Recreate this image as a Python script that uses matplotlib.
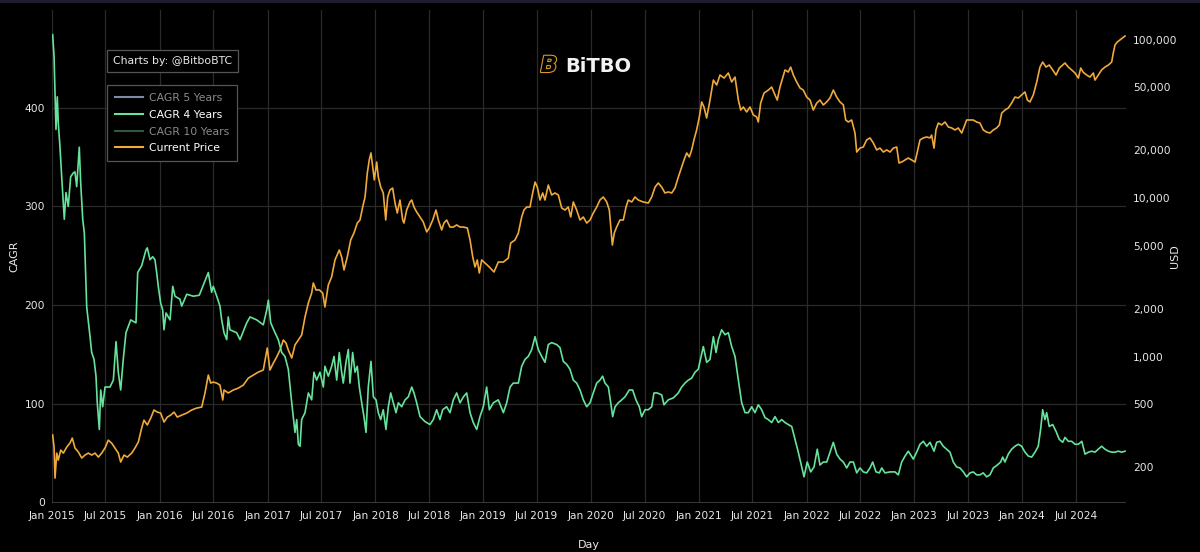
import datetime as dt
import matplotlib
matplotlib.use("Agg")
import matplotlib.pyplot as plt
import matplotlib.dates as mdates
import matplotlib.patheffects as pe
from matplotlib.lines import Line2D
from matplotlib.ticker import FixedLocator, FuncFormatter
from matplotlib.patches import Rectangle

# ---------------- data (decimal years) ----------------
cagr_t = [2015.006, 2015.019, 2015.037, 2015.049, 2015.058, 2015.074, 2015.090, 2015.105, 2015.114, 2015.130,
          2015.151, 2015.173, 2015.198, 2015.213, 2015.229, 2015.238, 2015.253, 2015.266, 2015.285, 2015.300,
          2015.322, 2015.353, 2015.368, 2015.390, 2015.408, 2015.420, 2015.439, 2015.452, 2015.470, 2015.492,
          2015.538, 2015.569, 2015.594, 2015.615, 2015.637, 2015.661, 2015.686, 2015.730, 2015.779, 2015.795,
          2015.832, 2015.872, 2015.884, 2015.909, 2015.934, 2015.955, 2015.971, 2015.986, 2016.008, 2016.027,
          2016.039, 2016.058, 2016.095, 2016.120, 2016.141, 2016.187, 2016.203, 2016.250, 2016.311, 2016.366,
          2016.413, 2016.450, 2016.481, 2016.496, 2016.528, 2016.558, 2016.574, 2016.596, 2016.621, 2016.635,
          2016.651, 2016.713, 2016.744, 2016.806, 2016.837, 2016.899, 2016.960, 2016.992,
          2017.007, 2017.029, 2017.069, 2017.099, 2017.131, 2017.161, 2017.192, 2017.224, 2017.254, 2017.270,
          2017.285, 2017.301, 2017.316, 2017.347, 2017.378, 2017.409, 2017.430, 2017.455, 2017.486, 2017.517,
          2017.532, 2017.563, 2017.594, 2017.616, 2017.641, 2017.665, 2017.687, 2017.702, 2017.727, 2017.749,
          2017.764, 2017.789, 2017.811, 2017.832, 2017.851, 2017.873, 2017.894, 2017.913, 2017.934, 2017.959,
          2017.981, 2018.006, 2018.027, 2018.049, 2018.073, 2018.098, 2018.120, 2018.142, 2018.166, 2018.191,
          2018.213, 2018.244, 2018.275, 2018.305, 2018.337, 2018.358, 2018.383, 2018.414, 2018.460, 2018.506,
          2018.537, 2018.568, 2018.599, 2018.624, 2018.661, 2018.692, 2018.723, 2018.754, 2018.785, 2018.816,
          2018.847, 2018.878, 2018.908, 2018.940, 2018.970,
          2019.001, 2019.032, 2019.057, 2019.094, 2019.140, 2019.187, 2019.218, 2019.249, 2019.279, 2019.326,
          2019.357, 2019.388, 2019.418, 2019.450, 2019.481, 2019.511, 2019.543, 2019.573, 2019.604, 2019.635,
          2019.682, 2019.712, 2019.743, 2019.774, 2019.805, 2019.836, 2019.867, 2019.898, 2019.929, 2019.960,
          2019.991, 2020.021, 2020.053, 2020.083, 2020.108, 2020.130, 2020.161, 2020.183, 2020.201, 2020.223,
          2020.253, 2020.285, 2020.315, 2020.355, 2020.386, 2020.417, 2020.448, 2020.470, 2020.501, 2020.532,
          2020.563, 2020.584, 2020.615, 2020.656, 2020.677, 2020.717, 2020.764, 2020.810, 2020.841, 2020.872,
          2020.903, 2020.934, 2020.965, 2020.995,
          2021.042, 2021.073, 2021.104, 2021.135, 2021.160, 2021.181, 2021.212, 2021.243, 2021.274, 2021.305,
          2021.336, 2021.367, 2021.398, 2021.429, 2021.459, 2021.491, 2021.521, 2021.552, 2021.583, 2021.614,
          2021.645, 2021.676, 2021.707, 2021.738, 2021.769, 2021.800, 2021.830, 2021.862, 2021.892, 2021.923,
          2021.955, 2021.976, 2022.006, 2022.038, 2022.069, 2022.099, 2022.124, 2022.155, 2022.187, 2022.217,
          2022.248, 2022.279, 2022.310, 2022.341, 2022.372, 2022.403, 2022.434, 2022.465, 2022.495, 2022.526,
          2022.557, 2022.588, 2022.613, 2022.644, 2022.675, 2022.697, 2022.727, 2022.774, 2022.820, 2022.851,
          2022.882, 2022.913, 2022.943,
          2022.990, 2023.021, 2023.052, 2023.083, 2023.114, 2023.145, 2023.182, 2023.207, 2023.237, 2023.268,
          2023.299, 2023.330, 2023.361, 2023.392, 2023.423, 2023.454, 2023.485, 2023.516, 2023.546, 2023.577,
          2023.608, 2023.639, 2023.670, 2023.701, 2023.732, 2023.769, 2023.800, 2023.819, 2023.840, 2023.871,
          2023.902, 2023.933, 2023.964, 2023.995, 2024.026, 2024.057, 2024.088, 2024.119, 2024.149, 2024.171,
          2024.190, 2024.211, 2024.227, 2024.251, 2024.283, 2024.314, 2024.344, 2024.376, 2024.397, 2024.428,
          2024.459, 2024.490, 2024.521, 2024.553, 2024.583, 2024.614, 2024.646, 2024.675, 2024.706, 2024.737,
          2024.768, 2024.800, 2024.830, 2024.861, 2024.892, 2024.923, 2024.954]
cagr_v = [474, 452, 378, 411, 385, 360, 330, 304, 287, 314,
          300, 330, 334, 335, 320, 335, 360, 324, 287, 273,
          198, 168, 152, 145, 128, 101, 74, 114, 97, 117,
          117, 124, 163, 132, 114, 145, 172, 185, 182, 233,
          240, 256, 258, 246, 249, 246, 233, 219, 202, 195,
          175, 192, 185, 219, 209, 206, 199, 211, 209, 210,
          223, 233, 213, 219, 209, 199, 185, 172, 165, 188,
          175, 172, 165, 182, 188, 185, 180, 195,
          205, 182, 172, 165, 152, 148, 135, 101, 71, 84,
          59, 57, 84, 91, 111, 104, 132, 124, 132, 117,
          138, 128, 138, 148, 124, 152, 132, 121, 142, 155,
          121, 152, 132, 138, 117, 101, 87, 71, 117, 143,
          107, 104, 91, 84, 94, 74, 97, 111, 101, 91,
          101, 97, 104, 107, 117, 111, 101, 87, 82, 79,
          84, 94, 84, 94, 97, 91, 104, 111, 101, 107,
          111, 91, 81, 74, 87,
          97, 117, 94, 101, 104, 91, 101, 117, 121, 121,
          138, 145, 148, 155, 168, 155, 148, 142, 160, 162,
          160, 157, 143, 140, 135, 124, 121, 114, 104, 97,
          101, 111, 121, 124, 128, 121, 117, 101, 87, 97,
          101, 104, 107, 114, 114, 104, 97, 87, 94, 94,
          97, 111, 111, 109, 99, 104, 106, 111, 117, 121,
          124, 126, 132, 135,
          158, 142, 145, 168, 152, 165, 175, 170, 172, 158,
          148, 124, 101, 91, 91, 97, 91, 99, 94, 86,
          84, 81, 87, 81, 84, 81, 79, 77, 64, 51,
          36, 26, 41, 31, 36, 54, 38, 41, 41, 51,
          61, 49, 44, 41, 35, 41, 41, 30, 35, 31,
          30, 35, 41, 31, 30, 35, 30, 31, 31, 28,
          41, 47, 52,
          44, 51, 59, 62, 57, 61, 52, 61, 62, 57,
          54, 51, 41, 36, 35, 31, 26, 30, 31, 28,
          28, 30, 26, 28, 35, 38, 41, 46, 41, 49,
          54, 57, 59, 57, 51, 47, 46, 51, 57, 74,
          94, 84, 91, 77, 79, 72, 64, 61, 66, 62,
          62, 59, 59, 62, 49, 51, 52, 51, 54, 57,
          54, 52, 51, 51, 52, 51, 52]

price_t = [2015.006, 2015.019, 2015.028, 2015.044, 2015.058, 2015.081, 2015.105, 2015.136, 2015.167, 2015.188,
           2015.213, 2015.244, 2015.276, 2015.306, 2015.337, 2015.368, 2015.399, 2015.430, 2015.461, 2015.492,
           2015.522, 2015.554, 2015.584, 2015.615, 2015.637, 2015.668, 2015.699, 2015.739, 2015.770, 2015.801,
           2015.832, 2015.853, 2015.884, 2015.916, 2015.946, 2015.977, 2016.008, 2016.039, 2016.070, 2016.101,
           2016.132, 2016.162, 2016.203, 2016.250, 2016.296, 2016.342, 2016.389, 2016.419, 2016.450, 2016.472,
           2016.496, 2016.528, 2016.558, 2016.584, 2016.596, 2016.635, 2016.682, 2016.728, 2016.775, 2016.821,
           2016.867, 2016.914, 2016.960, 2016.997,
           2017.022, 2017.053, 2017.084, 2017.115, 2017.146, 2017.171, 2017.192, 2017.224, 2017.254, 2017.285,
           2017.316, 2017.347, 2017.378, 2017.409, 2017.424, 2017.449, 2017.480, 2017.511, 2017.532, 2017.563,
           2017.594, 2017.625, 2017.665, 2017.687, 2017.709, 2017.739, 2017.771, 2017.801, 2017.832, 2017.857,
           2017.882, 2017.904, 2017.925, 2017.943, 2017.959, 2017.975, 2017.990, 2018.012, 2018.027, 2018.049,
           2018.073, 2018.096, 2018.114, 2018.135, 2018.160, 2018.182, 2018.203, 2018.228, 2018.253, 2018.265,
           2018.290, 2018.321, 2018.337, 2018.358, 2018.383, 2018.414, 2018.444, 2018.476, 2018.500, 2018.532,
           2018.562, 2018.584, 2018.615, 2018.636, 2018.661, 2018.692, 2018.723, 2018.754, 2018.785, 2018.816,
           2018.853, 2018.878, 2018.903, 2018.924, 2018.945, 2018.964, 2018.986,
           2019.017, 2019.057, 2019.100, 2019.140, 2019.187, 2019.233, 2019.255, 2019.295, 2019.326, 2019.357,
           2019.378, 2019.404, 2019.434, 2019.459, 2019.481, 2019.502, 2019.527, 2019.552, 2019.573, 2019.604,
           2019.635, 2019.666, 2019.697, 2019.728, 2019.759, 2019.789, 2019.812, 2019.836, 2019.867, 2019.898,
           2019.929, 2019.960, 2019.991, 2020.021, 2020.053, 2020.083, 2020.114, 2020.146, 2020.170, 2020.186,
           2020.198, 2020.216, 2020.238, 2020.269, 2020.300, 2020.325, 2020.346, 2020.378, 2020.408, 2020.439,
           2020.485, 2020.532, 2020.563, 2020.594, 2020.624, 2020.656, 2020.686, 2020.717, 2020.749, 2020.779,
           2020.810, 2020.841, 2020.863, 2020.888, 2020.912, 2020.934, 2020.955, 2020.980, 2021.005, 2021.027,
           2021.048, 2021.073, 2021.104, 2021.135, 2021.166, 2021.197, 2021.234, 2021.274, 2021.305, 2021.336,
           2021.367, 2021.389, 2021.413, 2021.444, 2021.475, 2021.506, 2021.537, 2021.552, 2021.574, 2021.605,
           2021.645, 2021.676, 2021.707, 2021.728, 2021.753, 2021.778, 2021.800, 2021.830, 2021.852, 2021.877,
           2021.908, 2021.939, 2021.969, 2022.001, 2022.032, 2022.062, 2022.094, 2022.124, 2022.155, 2022.186,
           2022.217, 2022.248, 2022.279, 2022.310, 2022.341, 2022.363, 2022.387, 2022.418, 2022.449, 2022.465,
           2022.495, 2022.526, 2022.557, 2022.588, 2022.619, 2022.650, 2022.681, 2022.712, 2022.743, 2022.774,
           2022.805, 2022.836, 2022.857, 2022.882, 2022.913, 2022.943, 2022.975, 2023.006, 2023.052, 2023.083,
           2023.114, 2023.145, 2023.160, 2023.182, 2023.200, 2023.222, 2023.253, 2023.284, 2023.315, 2023.346,
           2023.377, 2023.407, 2023.439, 2023.460, 2023.485, 2023.516, 2023.546, 2023.577, 2023.608, 2023.639,
           2023.670, 2023.701, 2023.732, 2023.763, 2023.788, 2023.810, 2023.840, 2023.871, 2023.902, 2023.933,
           2023.964, 2023.995, 2024.026, 2024.048, 2024.072, 2024.103, 2024.135, 2024.165, 2024.190, 2024.221,
           2024.251, 2024.283, 2024.314, 2024.344, 2024.376, 2024.397, 2024.428, 2024.459, 2024.490, 2024.521,
           2024.543, 2024.567, 2024.598, 2024.629, 2024.660, 2024.675, 2024.706, 2024.737, 2024.768, 2024.800,
           2024.830, 2024.845, 2024.861, 2024.882, 2024.907, 2024.932, 2024.954]
price_v = [320, 269, 171, 246, 222, 257, 246, 268, 285, 306,
           265, 250, 229, 239, 246, 239, 246, 232, 246, 265,
           297, 284, 265, 246, 216, 239, 232, 246, 265, 289,
           354, 397, 370, 409, 460, 446, 440, 386, 415, 427,
           446, 415, 427, 440, 460, 473, 480, 589, 764, 680,
           690, 680, 661, 532, 615, 589, 615, 632, 661, 731,
           764, 798, 822, 1132,
           822, 909, 993, 1099, 1271, 1216, 1099, 979, 1183, 1271,
           1367, 1775, 2178, 2518, 2911, 2630, 2630, 2518, 2053, 2826,
           3176, 4068, 4699, 4246, 3516, 4246, 5433, 6012, 6951, 7265,
           8775, 10150, 14380, 17380, 19240, 15710, 13000, 16860, 13550, 11720,
           10760, 7265, 10150, 11230, 11560, 9300, 8040, 9710, 7265, 6951,
           8400, 9440, 9710, 8775, 8160, 7590, 7060, 6110, 6470, 7265,
           8400, 7265, 6290, 6951, 7265, 6560, 6560, 6760, 6560, 6560,
           6470, 5433, 4246, 3670, 4068, 3366, 4068,
           3890, 3670, 3414, 3945, 3945, 4180, 5200, 5433, 6012, 7590,
           8400, 8775, 8775, 10760, 12610, 11720, 9710, 10760, 9710, 12080,
           10450, 10760, 10450, 8650, 8400, 8775, 7590, 9440, 8400, 7265,
           7590, 6951, 7265, 8040, 8775, 9710, 10150, 9440, 8400, 6290,
           5050, 6012, 6560, 7265, 7265, 8775, 9710, 9440, 10150, 9710,
           9440, 9300, 10150, 11720, 12440, 11720, 10760, 10920, 10760, 11560,
           13550, 15710, 17380, 19240, 18150, 20110, 23250, 26870, 32440, 40360,
           37500, 31980, 41500, 55460, 51640, 59700, 57100, 61480, 53950, 57940,
           41500, 35890, 37500, 34900, 37500, 33420, 32440, 30170, 39720, 45920,
           47980, 50140, 44670, 41500, 50140, 57100, 64270, 62370, 66990, 59700,
           53950, 49440, 47980, 43340, 41500, 35890, 39720, 41500, 38650, 40360,
           42770, 47980, 43340, 40360, 38650, 31060, 30170, 31060, 25700, 19500,
           20650, 20980, 23250, 23940, 22240, 20110, 20650, 19500, 20110, 19500,
           20650, 20980, 16630, 16860, 17380, 17870, 17380, 16860, 23250, 23940,
           24270, 23940, 24950, 20650, 26870, 29720, 28900, 30170, 28060, 27670,
           26870, 27670, 25700, 28060, 31060, 31060, 31060, 30170, 29720, 26870,
           26060, 25700, 26870, 27670, 28900, 34350, 35890, 36990, 39720, 43340,
           42770, 44670, 46700, 41500, 40360, 44670, 53950, 66990, 72080, 66990,
           69020, 64270, 59700, 66040, 69020, 71100, 66990, 64270, 61480, 57100,
           66040, 62000, 59700, 57940, 61480, 55460, 59700, 64270, 66990, 69020,
           72080, 82200, 92300, 96400, 99300, 102200, 105200]

cagr_ticks = [0, 100, 200, 300, 400]
usd_ticks = [200, 500, 1000, 2000, 5000, 10000, 20000, 50000, 100000]
x_tick_labels = ["Jan 2015", "Jul 2015", "Jan 2016", "Jul 2016", "Jan 2017", "Jul 2017",
                 "Jan 2018", "Jul 2018", "Jan 2019", "Jul 2019", "Jan 2020", "Jul 2020",
                 "Jan 2021", "Jul 2021", "Jan 2022", "Jul 2022", "Jan 2023", "Jul 2023",
                 "Jan 2024", "Jul 2024"]
legend_labels = ["CAGR 5 Years", "CAGR 4 Years", "CAGR 10 Years", "Current Price"]


def to_date(t):
    return dt.datetime(2015, 1, 1) + dt.timedelta(days=(t - 2015.0) * 365.25)


cagr_d = [to_date(t) for t in cagr_t]
price_d = [to_date(t) for t in price_t]
tick_d = [dt.datetime.strptime(s, "%b %Y") for s in x_tick_labels]

# ---------------- style ----------------
BG = "#000000"
GREEN = "#66e39b"
ORANGE = "#f0a93b"
GRID = "#2a2a2a"
TXT = "#e8e8e8"
plt.rcParams["font.family"] = ["DejaVu Sans"]

fig = plt.figure(figsize=(12, 5.52), dpi=100, facecolor=BG)
ax = fig.add_axes([52 / 1200, 1 - 502.5 / 552, (1126 - 52) / 1200, (502.5 - 10) / 552])
ax.set_facecolor(BG)
ax2 = ax.twinx()

fig.patches.append(Rectangle((0, 1 - 3 / 552), 1, 3 / 552, transform=fig.transFigure,
                             facecolor="#1c1c2e", edgecolor="none"))

# price (right, log)
ax2.plot(price_d, price_v, color=ORANGE, lw=1.2, zorder=2)
ax2.set_yscale("log")
ax2.set_ylim(120, 153500)
ax2.yaxis.set_major_locator(FixedLocator(usd_ticks))
ax2.yaxis.set_minor_locator(FixedLocator([]))
ax2.yaxis.set_major_formatter(FuncFormatter(lambda v, p: f"{int(v):,}"))
ax2.tick_params(axis="y", length=0, pad=5, labelsize=7.7, labelcolor=TXT)
ax2.set_ylabel("USD", color=TXT, fontsize=8)
ax2.yaxis.set_label_coords((1175 - 52) / 1074, 0.5)
ax2.yaxis.label.set_verticalalignment("center")

# CAGR (left)
ax.plot(cagr_d, cagr_v, color=GREEN, lw=1.2, zorder=3)
ax.set_zorder(ax2.get_zorder() + 1)
ax.patch.set_visible(False)
ax2.patch.set_visible(True)
ax2.patch.set_facecolor(BG)
ax.set_ylim(0, 499)
ax.yaxis.set_major_locator(FixedLocator(cagr_ticks))
ax.tick_params(axis="y", length=0, pad=5, labelsize=7.7, labelcolor=TXT)
ax.set_ylabel("CAGR", color=TXT, fontsize=8)
ax.yaxis.set_label_coords((14 - 52) / 1074, 0.5)
ax.yaxis.label.set_verticalalignment("center")

ax.set_xlim(to_date(2015.0), to_date(2024.963))
ax.xaxis.set_major_locator(FixedLocator(mdates.date2num(tick_d)))
ax.set_xticklabels(x_tick_labels)
ax.tick_params(axis="x", length=0, pad=6, labelsize=7.7, labelcolor=TXT)
ax.set_xlabel("Day", color=TXT, fontsize=8, labelpad=14)

# grid lines (drawn on the price axis so they sit behind both lines)
for d in tick_d:
    ax2.axvline(d, color=GRID, lw=0.9, zorder=0)
for v in cagr_ticks[1:]:
    ax2.axhline(10 ** (2.0792 + (v / 499) * (5.1861 - 2.0792)), color=GRID, lw=0.9, zorder=0)
ax.axhline(0, color="#444444", lw=1.2, zorder=1)

for a in (ax, ax2):
    for s in a.spines.values():
        s.set_visible(False)

# "Charts by" box
fig.text(113 / 1200, 1 - 61 / 552, "Charts by: @BitboBTC", color=TXT, fontsize=7.8,
         va="center", ha="left",
         bbox=dict(boxstyle="square,pad=0.55", facecolor=BG, edgecolor="#555555", lw=0.9))

# legend
handles = [Line2D([], [], color="#7d8ca3", lw=1.5),
           Line2D([], [], color=GREEN, lw=1.5),
           Line2D([], [], color="#2f5a3a", lw=1.5),
           Line2D([], [], color=ORANGE, lw=1.5)]
leg = fig.legend(handles, legend_labels, loc="upper left",
                 bbox_to_anchor=(107 / 1200, 1 - 85 / 552), bbox_transform=fig.transFigure,
                 fontsize=7.8, frameon=True, fancybox=False, borderaxespad=0,
                 borderpad=0.75, labelspacing=0.62, handlelength=2.6, handletextpad=0.5,
                 labelcolor=["#8a8a8a", "#ffffff", "#8a8a8a", "#ffffff"])
leg.get_frame().set_facecolor(BG)
leg.get_frame().set_edgecolor("#555555")
leg.get_frame().set_linewidth(0.9)
leg.get_frame().set_alpha(1)

# logo
fig.text(549 / 1200, 1 - 66 / 552, "B", color=BG, fontsize=16, fontweight="bold",
         fontstyle="italic", ha="center", va="center",
         path_effects=[pe.withStroke(linewidth=1.6, foreground="#d99a2b")])
fig.text(565 / 1200, 1 - 66 / 552, "BiTBO", color="#f2f2f2", fontsize=14, fontweight="bold",
         ha="left", va="center")

fig.savefig("out.png", dpi=100, facecolor=BG)
